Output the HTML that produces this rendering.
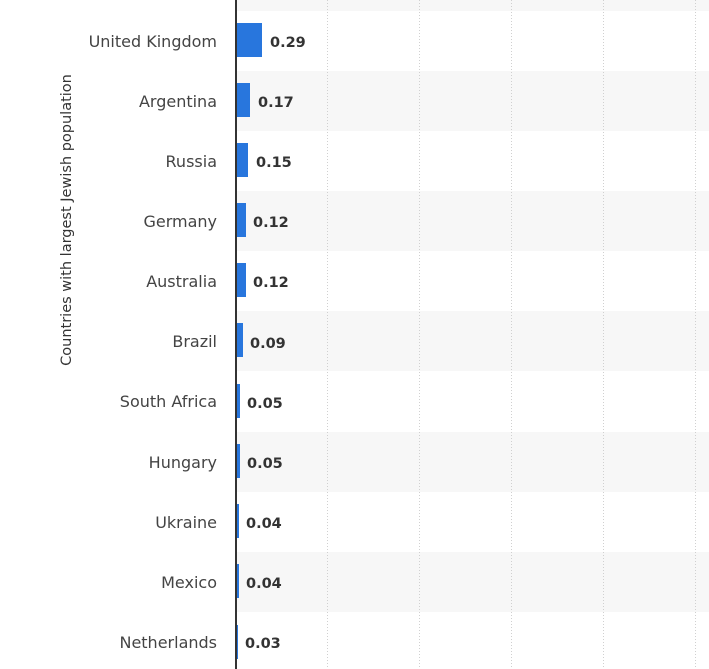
<!DOCTYPE html>
<html><head><style>body{margin:0;background:#fff}svg{display:block}</style></head><body>
<svg width="709" height="669" xmlns="http://www.w3.org/2000/svg" font-family="DejaVu Sans, sans-serif">
<rect x="236" y="0" width="473" height="11" fill="#f7f7f7"/>
<rect x="236" y="71" width="473" height="60" fill="#f7f7f7"/>
<rect x="236" y="191" width="473" height="60" fill="#f7f7f7"/>
<rect x="236" y="311" width="473" height="60" fill="#f7f7f7"/>
<rect x="236" y="432" width="473" height="60" fill="#f7f7f7"/>
<rect x="236" y="552" width="473" height="60" fill="#f7f7f7"/>
<g stroke="#d0d0d0" stroke-dasharray="1,2" stroke-width="1">
<line x1="327.5" y1="0" x2="327.5" y2="669"/><line x1="419.5" y1="0" x2="419.5" y2="669"/>
<line x1="511.5" y1="0" x2="511.5" y2="669"/><line x1="603.5" y1="0" x2="603.5" y2="669"/>
<line x1="695.5" y1="0" x2="695.5" y2="669"/></g>
<g fill="#2876dd">
<rect x="236" y="23" width="26" height="34"/>
<rect x="236" y="83" width="14" height="34"/>
<rect x="236" y="143" width="12" height="34"/>
<rect x="236" y="203" width="10" height="34"/>
<rect x="236" y="263" width="10" height="34"/>
<rect x="236" y="323" width="7" height="34"/>
<rect x="236" y="384" width="4" height="34"/>
<rect x="236" y="444" width="4" height="34"/>
<rect x="236" y="504" width="3" height="34"/>
<rect x="236" y="564" width="3" height="34"/>
<rect x="236" y="625" width="2" height="34"/>
</g>
<line x1="236" y1="0" x2="236" y2="669" stroke="#333" stroke-width="2"/>
<g font-size="16" fill="#444" text-anchor="end">
<text x="217" y="47">United Kingdom</text><text x="217" y="107">Argentina</text>
<text x="217" y="167">Russia</text><text x="217" y="227">Germany</text>
<text x="217" y="287">Australia</text><text x="217" y="347">Brazil</text>
<text x="217" y="407">South Africa</text><text x="217" y="468">Hungary</text>
<text x="217" y="528">Ukraine</text><text x="217" y="588">Mexico</text>
<text x="217" y="648">Netherlands</text></g>
<g font-size="14.5" font-weight="bold" fill="#333">
<text x="270" y="47">0.29</text><text x="258" y="107">0.17</text>
<text x="256" y="167">0.15</text><text x="253" y="227">0.12</text>
<text x="253" y="287">0.12</text><text x="250" y="348">0.09</text>
<text x="247" y="408">0.05</text><text x="247" y="468">0.05</text>
<text x="246" y="528">0.04</text><text x="246" y="588">0.04</text>
<text x="245" y="648">0.03</text></g>
<text transform="translate(71,220) rotate(-90)" text-anchor="middle" font-size="14.5" fill="#333">Countries with largest Jewish population</text>
</svg>
</body></html>
